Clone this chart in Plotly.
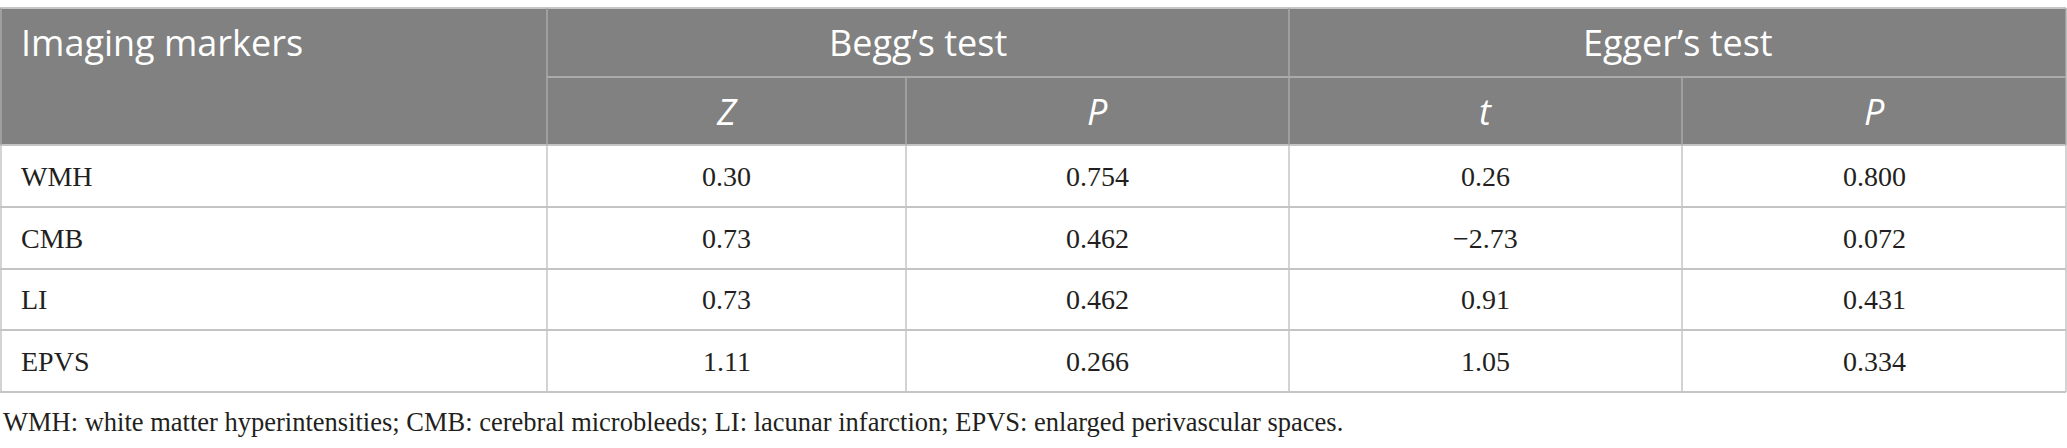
import plotly.graph_objects as go

# Datos de la tabla
marcadores = ["WMH", "CMB", "LI", "EPVS"]
begg_z = [0.30, 0.73, 0.73, 1.11]
begg_p = [0.754, 0.462, 0.462, 0.266]
egger_t = [0.26, -2.73, 0.91, 1.05]
egger_p = [0.800, 0.072, 0.431, 0.334]

titulo_col = "Imaging markers"
grupos = ["Begg’s test", "Egger’s test"]
subcols = ["Z", "P", "t", "P"]
nota = ("WMH: white matter hyperintensities; CMB: cerebral microbleeds; "
        "LI: lacunar infarction; EPVS: enlarged perivascular spaces.")

# Geometría (píxeles)
W, H = 2067, 448
col_x = [0, 547, 906, 1289, 1682, 2066]
fila_y = [8, 77, 145, 207, 269, 330, 392]

gris = "rgb(128,129,128)"
linea_head = "rgb(170,170,170)"
linea_body = "rgb(196,196,196)"
texto = "rgb(35,31,32)"
sans = "Open Sans"
serif = "Liberation Serif"


def fmt(v, d):
    s = f"{abs(v):.{d}f}"
    return ("−" + s) if v < 0 else s


columnas = [
    [fmt(v, 2) for v in begg_z],
    [fmt(v, 3) for v in begg_p],
    [fmt(v, 2) for v in egger_t],
    [fmt(v, 3) for v in egger_p],
]

fig = go.Figure()
shapes = []
anots = []

# Fondo gris del encabezado
shapes.append(dict(type="rect", x0=col_x[0], x1=col_x[-1], y0=fila_y[0], y1=fila_y[2],
                   fillcolor=gris, line=dict(width=0), layer="below"))

# Líneas horizontales
shapes.append(dict(type="line", x0=col_x[1], x1=col_x[-1], y0=fila_y[1], y1=fila_y[1],
                   line=dict(color=linea_head, width=2)))
for y in fila_y[2:]:
    shapes.append(dict(type="line", x0=col_x[0], x1=col_x[-1], y0=y, y1=y,
                       line=dict(color=linea_body, width=2)))
shapes.append(dict(type="line", x0=col_x[0], x1=col_x[-1], y0=fila_y[0], y1=fila_y[0],
                   line=dict(color=linea_body, width=2)))

# Líneas verticales
for i, x in enumerate(col_x):
    xx = max(x, 1)
    y_ini = fila_y[0] if i in (0, 1, 3, 5) else fila_y[1]
    shapes.append(dict(type="line", x0=xx, x1=xx, y0=y_ini, y1=fila_y[2],
                       line=dict(color=linea_head, width=1.5)))
    shapes.append(dict(type="line", x0=xx, x1=xx, y0=fila_y[2], y1=fila_y[-1],
                       line=dict(color=linea_body, width=1.5)))

# Encabezado
anots.append(dict(x=19, y=(fila_y[0] + fila_y[1]) / 2, text=titulo_col, xanchor="left",
                  font=dict(family=sans, size=36, color="white")))
for g, nombre in enumerate(grupos):
    xc = (col_x[1 + 2 * g] + col_x[3 + 2 * g]) / 2
    anots.append(dict(x=xc, y=(fila_y[0] + fila_y[1]) / 2, text=nombre,
                      font=dict(family=sans, size=36, color="white")))
for j, sc in enumerate(subcols):
    xc = (col_x[1 + j] + col_x[2 + j]) / 2
    anots.append(dict(x=xc, y=(fila_y[1] + fila_y[2]) / 2, text=f"<i>{sc}</i>",
                      font=dict(family=sans, size=36, color="white")))

# Cuerpo
for r, m in enumerate(marcadores):
    yc = (fila_y[2 + r] + fila_y[3 + r]) / 2
    anots.append(dict(x=19, y=yc, text=m, xanchor="left",
                      font=dict(family=serif, size=28, color=texto)))
    for j, col in enumerate(columnas):
        xc = (col_x[1 + j] + col_x[2 + j]) / 2
        anots.append(dict(x=xc, y=yc, text=col[r],
                          font=dict(family=serif, size=28, color=texto)))

# Nota al pie
anots.append(dict(x=1, y=422, text=nota, xanchor="left",
                  font=dict(family=serif, size=26.5, color=texto)))

for a in anots:
    a.update(xref="x", yref="y", showarrow=False, yanchor="middle")

fig.update_layout(
    width=W, height=H,
    margin=dict(l=0, r=0, t=0, b=0),
    paper_bgcolor="white", plot_bgcolor="white",
    xaxis=dict(range=[0, W], visible=False, fixedrange=True),
    yaxis=dict(range=[H, 0], visible=False, fixedrange=True),
    shapes=shapes, annotations=anots,
    showlegend=False,
)

# quitar el margen por defecto del <body> para que la figura empiece en (0, 0)
fig.write_html("out.html", config={"displayModeBar": False},
               post_script="document.body.style.margin='0px';")
